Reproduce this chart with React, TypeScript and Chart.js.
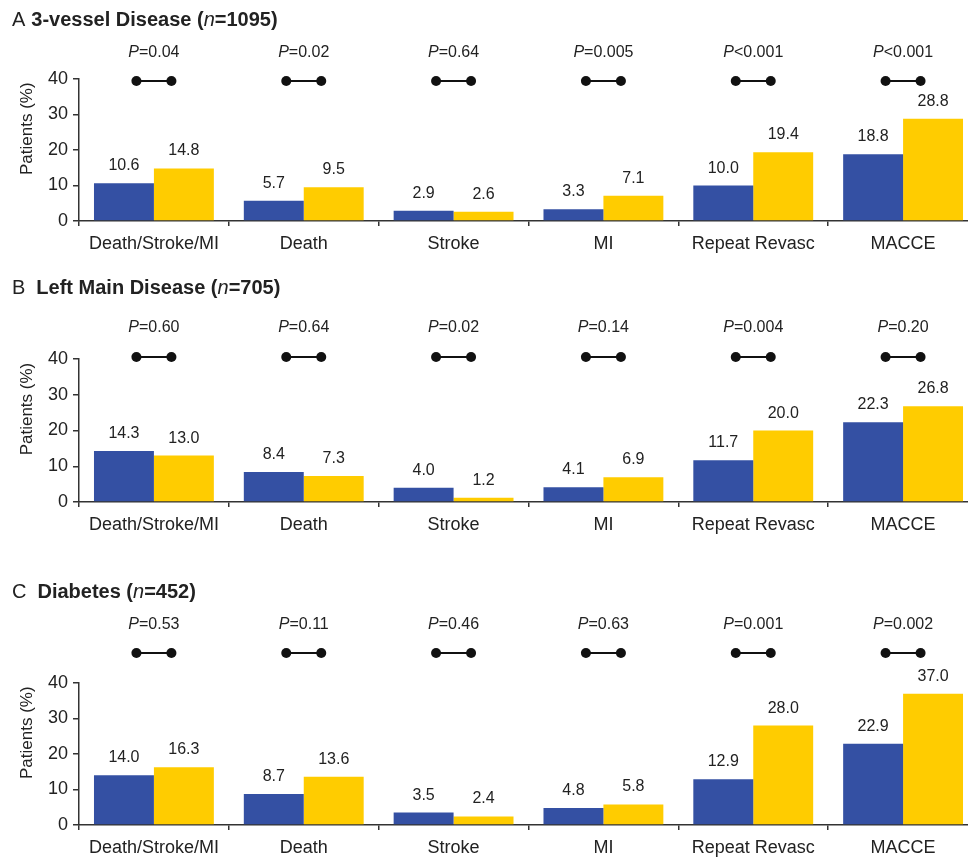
import React, { useEffect, useRef } from "react";
import { Chart, registerables } from "chart.js";

Chart.register(...registerables);

const CATEGORIES = ["Death/Stroke/MI", "Death", "Stroke", "MI", "Repeat Revasc", "MACCE"];
const Y_TICKS = [0, 10, 20, 30, 40];

const A_BLUE = [10.6, 5.7, 2.9, 3.3, 10.0, 18.8];
const A_YELLOW = [14.8, 9.5, 2.6, 7.1, 19.4, 28.8];
const A_P = ["=0.04", "=0.02", "=0.64", "=0.005", "<0.001", "<0.001"];

const B_BLUE = [14.3, 8.4, 4.0, 4.1, 11.7, 22.3];
const B_YELLOW = [13.0, 7.3, 1.2, 6.9, 20.0, 26.8];
const B_P = ["=0.60", "=0.64", "=0.02", "=0.14", "=0.004", "=0.20"];

const C_BLUE = [14.0, 8.7, 3.5, 4.8, 12.9, 22.9];
const C_YELLOW = [16.3, 13.6, 2.4, 5.8, 28.0, 37.0];
const C_P = ["=0.53", "=0.11", "=0.46", "=0.63", "=0.001", "=0.002"];

const PANELS = [
  { letter: "A", name: "3-vessel Disease (", n: "1095", blue: A_BLUE, yellow: A_YELLOW, p: A_P },
  { letter: "B", name: "Left Main Disease (", n: "705", blue: B_BLUE, yellow: B_YELLOW, p: B_P },
  { letter: "C", name: "Diabetes (", n: "452", blue: C_BLUE, yellow: C_YELLOW, p: C_P },
];

const LAYOUT = [
  { top: 0, height: 265, padTop: 79, xAxisH: 44, titleY: 20, titleGap: 6, pY: 53, dumbY: 81 },
  { top: 265, height: 295, padTop: 94, xAxisH: 58, titleY: 23, titleGap: 11, pY: 63, dumbY: 92 },
  { top: 560, height: 300, padTop: 123, xAxisH: 35, titleY: 32, titleGap: 11, pY: 65, dumbY: 93 },
];

const BLUE = "#3450A3";
const YELLOW = "#FFCC00";
const TEXT = "#222222";
const AXIS = "#333333";
const FAMILY = "'Liberation Sans', Arial, sans-serif";
const CANVAS_W = 990;

function Panel({ idx }: { idx: number }) {
  const ref = useRef<HTMLCanvasElement | null>(null);
  const panel = PANELS[idx];
  const lay = LAYOUT[idx];

  useEffect(() => {
    if (!ref.current) return;
    const annot = {
      id: "annot" + idx,
      afterDraw(chart: any) {
        const ctx = chart.ctx;
        const xs = chart.scales.x;
        const area = chart.chartArea;
        ctx.save();
        ctx.fillStyle = TEXT;
        ctx.textBaseline = "middle";
        ctx.textAlign = "left";
        // title
        ctx.font = `20px ${FAMILY}`;
        ctx.fillText(panel.letter, 12, lay.titleY);
        let tx = 12 + ctx.measureText(panel.letter).width + lay.titleGap;
        ctx.font = `bold 20px ${FAMILY}`;
        ctx.fillText(panel.name, tx, lay.titleY);
        tx += ctx.measureText(panel.name).width;
        ctx.font = `italic 20px ${FAMILY}`;
        ctx.fillText("n", tx, lay.titleY);
        tx += ctx.measureText("n").width;
        ctx.font = `bold 20px ${FAMILY}`;
        ctx.fillText("=" + panel.n + ")", tx, lay.titleY);

        // y title
        ctx.save();
        ctx.translate(27, area.top + 0.35 * (area.bottom - area.top));
        ctx.rotate(-Math.PI / 2);
        ctx.textAlign = "center";
        ctx.font = `17px ${FAMILY}`;
        ctx.fillText("Patients (%)", 0, 0);
        ctx.restore();

        // P values & dumbbells
        CATEGORIES.forEach((_, j) => {
          const cx = xs.getPixelForValue(j);
          ctx.font = `italic 16px ${FAMILY}`;
          const wP = ctx.measureText("P").width;
          ctx.font = `16px ${FAMILY}`;
          const wR = ctx.measureText(panel.p[j]).width;
          const start = cx - (wP + wR) / 2;
          ctx.textAlign = "left";
          ctx.font = `italic 16px ${FAMILY}`;
          ctx.fillText("P", start, lay.pY);
          ctx.font = `16px ${FAMILY}`;
          ctx.fillText(panel.p[j], start + wP, lay.pY);

          ctx.strokeStyle = "#111";
          ctx.fillStyle = "#111";
          ctx.lineWidth = 2;
          ctx.beginPath();
          ctx.moveTo(cx - 17.5, lay.dumbY);
          ctx.lineTo(cx + 17.5, lay.dumbY);
          ctx.stroke();
          [cx - 17.5, cx + 17.5].forEach((dx) => {
            ctx.beginPath();
            ctx.arc(dx, lay.dumbY, 5, 0, Math.PI * 2);
            ctx.fill();
          });
          ctx.fillStyle = TEXT;
        });

        // value labels
        ctx.font = `16px ${FAMILY}`;
        ctx.textAlign = "center";
        ctx.textBaseline = "alphabetic";
        chart.data.datasets.forEach((ds: any, di: number) => {
          const meta = chart.getDatasetMeta(di);
          meta.data.forEach((bar: any, j: number) => {
            ctx.fillText(Number(ds.data[j]).toFixed(1), bar.x, bar.y - 13);
          });
        });
        ctx.restore();
      },
    };

    const chart = new Chart(ref.current, {
      type: "bar",
      data: {
        labels: CATEGORIES,
        datasets: [
          { data: panel.blue, backgroundColor: BLUE, borderWidth: 0, categoryPercentage: 0.8, barPercentage: 1.0 },
          { data: panel.yellow, backgroundColor: YELLOW, borderWidth: 0, categoryPercentage: 0.8, barPercentage: 1.0 },
        ],
      },
      options: {
        responsive: false,
        animation: false,
        devicePixelRatio: 1,
        layout: { padding: { top: lay.padTop, left: 0, right: 12, bottom: 0 } },
        plugins: { legend: { display: false }, tooltip: { enabled: false }, title: { display: false } },
        scales: {
          x: {
            grid: { drawOnChartArea: false, tickLength: 5, color: AXIS, lineWidth: 1.5 },
            border: { color: AXIS, width: 1.5 },
            ticks: { font: { family: FAMILY, size: 18 }, color: TEXT, padding: 7, maxRotation: 0, autoSkip: false },
            afterFit: (s: any) => {
              s.height = lay.xAxisH;
            },
          },
          y: {
            min: 0,
            max: 40,
            afterBuildTicks: (s: any) => {
              s.ticks = Y_TICKS.map((v) => ({ value: v }));
            },
            ticks: { font: { family: FAMILY, size: 18 }, color: TEXT, padding: 5 },
            grid: { drawOnChartArea: false, tickLength: 6, color: AXIS, lineWidth: 1.5 },
            border: { color: AXIS, width: 1.5 },
            afterFit: (s: any) => {
              s.width = 79;
            },
          },
        },
      } as any,
      plugins: [annot],
    });
    return () => chart.destroy();
  }, []);

  return (
    <canvas
      ref={ref}
      width={CANVAS_W}
      height={lay.height}
      style={{ position: "absolute", left: 0, top: lay.top, width: CANVAS_W, height: lay.height }}
    />
  );
}

export default function App() {
  return (
    <div
      style={{
        position: "fixed",
        left: 0,
        top: 0,
        width: 968,
        height: 860,
        overflow: "hidden",
        background: "#fff",
      }}
    >
      {PANELS.map((_, i) => (
        <Panel key={i} idx={i} />
      ))}
    </div>
  );
}
